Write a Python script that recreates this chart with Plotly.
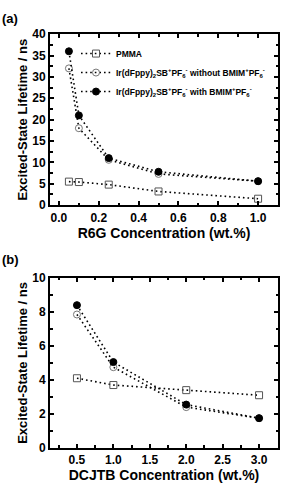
import plotly.graph_objects as go

# Panel (a): R6G
r6g_x = [0.05, 0.1, 0.25, 0.5, 1.0]
r6g_pmma = [5.5, 5.4, 4.8, 3.2, 1.5]
r6g_without = [32.0, 18.0, 10.6, 7.3, 5.6]
r6g_with = [36.0, 21.0, 11.0, 7.8, 5.6]

# Panel (b): DCJTB
dcjtb_x = [0.5, 1.0, 2.0, 3.0]
dcjtb_pmma = [4.1, 3.7, 3.4, 3.1]
dcjtb_without = [7.85, 4.75, 2.4, 1.75]
dcjtb_with = [8.4, 5.05, 2.55, 1.75]

names = [
    "PMMA",
    "Ir(dFppy)<sub>2</sub>SB<sup>+</sup>PF<sub>6</sub><sup>-</sup> without BMIM<sup>+</sup>PF<sub>6</sub><sup>-</sup>",
    "Ir(dFppy)<sub>2</sub>SB<sup>+</sup>PF<sub>6</sub><sup>-</sup> with BMIM<sup>+</sup>PF<sub>6</sub><sup>-</sup>",
]

styles = [
    dict(symbol="square-open", color="#555555"),
    dict(symbol="circle-open", color="#777777"),
    dict(symbol="circle", color="black"),
]

fig = go.Figure()
FONT = "Liberation Sans, Arial, sans-serif"
DOT = "1.6px,3px"

for i, (ys, st) in enumerate(zip([r6g_pmma, r6g_without, r6g_with], styles)):
    fig.add_trace(go.Scatter(
        x=r6g_x, y=ys, mode="lines+markers", name=names[i],
        line=dict(color="black", width=1.6, dash=DOT),
        marker=dict(symbol=st["symbol"], size=7, color=st["color"],
                    line=dict(width=1, color=st["color"])),
        xaxis="x", yaxis="y", showlegend=True,
    ))

for i, (ys, st) in enumerate(zip([dcjtb_pmma, dcjtb_without, dcjtb_with], styles)):
    fig.add_trace(go.Scatter(
        x=dcjtb_x, y=ys, mode="lines+markers", name=names[i],
        line=dict(color="black", width=1.6, dash=DOT),
        marker=dict(symbol=st["symbol"], size=7, color=st["color"],
                    line=dict(width=1, color=st["color"])),
        xaxis="x2", yaxis="y2", showlegend=False,
    ))

axis_common = dict(
    showline=True, linecolor="black", linewidth=2, mirror="ticks",
    ticks="inside", ticklen=4, tickwidth=1.5, tickcolor="black",
    showgrid=False, zeroline=False,
    tickfont=dict(family=FONT, size=12, color="black", weight="bold"),
)

xd = [50 / 287, 278 / 287]
fig.update_layout(
    width=287, height=486,
    margin=dict(l=0, r=0, t=0, b=0),
    paper_bgcolor="white", plot_bgcolor="white",
    font=dict(family=FONT, color="black"),
    xaxis=dict(domain=xd, range=[-0.045, 1.1], tickvals=[0, 0.2, 0.4, 0.6, 0.8, 1.0],
               ticktext=["0.0", "0.2", "0.4", "0.6", "0.8", "1.0"],
               minor=dict(dtick=0.1, ticks="inside", ticklen=2.5, tickcolor="black"),
               title=dict(text="<b>R6G Concentration (wt.%)</b>", font=dict(size=14), standoff=3),
               anchor="y", **axis_common),
    yaxis=dict(domain=[1 - 204 / 486, 1 - 28 / 486], range=[0, 40], dtick=5,
               minor=dict(dtick=2.5, ticks="inside", ticklen=2.5, tickcolor="black"),
               title=dict(text="<b>Excited-State Lifetime / ns</b>", font=dict(size=13), standoff=2),
               anchor="x", **axis_common),
    xaxis2=dict(domain=xd, range=[0.13, 3.26], tickvals=[0.5, 1.0, 1.5, 2.0, 2.5, 3.0],
                ticktext=["0.5", "1.0", "1.5", "2.0", "2.5", "3.0"],
                minor=dict(dtick=0.25, ticks="inside", ticklen=2.5, tickcolor="black"),
                title=dict(text="<b>DCJTB Concentration (wt.%)</b>", font=dict(size=14), standoff=1),
                anchor="y2", **axis_common),
    yaxis2=dict(domain=[1 - 454 / 486, 1 - 279 / 486], range=[0, 10], dtick=2,
                minor=dict(dtick=1, ticks="inside", ticklen=2.5, tickcolor="black"),
                title=dict(text="<b>Excited-State Lifetime / ns</b>", font=dict(size=13), standoff=2),
                anchor="x2", **axis_common),
    legend=dict(x=76 / 287, y=1 - 33 / 486, xanchor="left", yanchor="top",
                bgcolor="rgba(0,0,0,0)", font=dict(size=8.5, family=FONT, weight="bold"),
                itemwidth=30, tracegroupgap=0),
    showlegend=True,
)

fig.add_annotation(text="<b>(a)</b>", x=0, y=1 - 2 / 486, xref="paper", yref="paper",
                   xanchor="left", yanchor="top", showarrow=False,
                   font=dict(size=13, family=FONT, color="black"))
fig.add_annotation(text="<b>(b)</b>", x=0, y=1 - 250 / 486, xref="paper", yref="paper",
                   xanchor="left", yanchor="top", showarrow=False,
                   font=dict(size=13, family=FONT, color="black"))

fig.write_html("out.html")
